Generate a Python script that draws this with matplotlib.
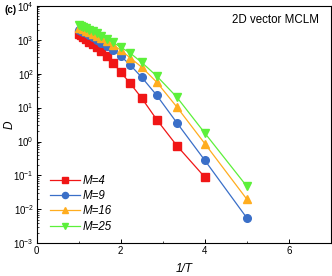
import matplotlib
matplotlib.use("Agg")
import matplotlib.pyplot as plt
from matplotlib.ticker import LogLocator, NullFormatter, MultipleLocator

plt.rcParams['font.family'] = ['Liberation Sans', 'DejaVu Sans']
plt.rcParams['mathtext.fontset'] = 'custom'
plt.rcParams['mathtext.rm'] = 'Liberation Sans'

# temperatures used in the simulation, plotted as 1/T
temps = [1.0, 0.95, 0.9, 0.85, 0.8, 0.75, 0.7, 0.65, 0.6, 0.55,
         0.5, 0.45, 0.4, 0.35, 0.3, 0.25, 0.2]
inv_t = [1.0 / t for t in temps]

d_m4 = [1514, 1349, 1175, 1023, 851, 759, 603, 457, 331, 209,
        110, 52.5, 19, 4.4, 0.76, 0.089]
d_m9 = [1995, 1862, 1698, 1549, 1349, 1175, 977, 813, 661, 513,
        331, 182, 78, 23, 3.6, 0.28, 0.0056]
d_m16 = [2291, 2188, 2042, 1862, 1698, 1514, 1318, 1096, 891, 708,
         490, 295, 155, 56, 10.5, 0.87, 0.020]
d_m25 = [2630, 2512, 2344, 2188, 1995, 1778, 1549, 1318, 1072, 832,
         603, 407, 214, 85, 20.4, 1.78, 0.048]

labels = ["M=4", "M=9", "M=16", "M=25"]
colors = ["#f01616", "#3a6fc8", "#ffad1f", "#5cf03a"]
markers = ["s", "o", "^", "v"]

fig = plt.figure(figsize=(3.32, 2.76), dpi=100)
ax = fig.add_axes([0.1105, 0.1185, 0.886, 0.8605])

for d, lab, c, m in zip([d_m4, d_m9, d_m16, d_m25], labels, colors, markers):
    ax.plot(inv_t[:len(d)], d, color=c, marker=m, markersize=5.5,
            linewidth=0.9, label=lab)

ax.set_yscale('log')
ax.set_xlim(0, 7)
ax.set_ylim(1e-3, 1e4)
ax.xaxis.set_major_locator(MultipleLocator(2))
ax.xaxis.set_minor_locator(MultipleLocator(1))
ax.yaxis.set_major_locator(LogLocator(base=10, numticks=10))
ax.yaxis.set_minor_locator(LogLocator(base=10, subs=range(2, 10), numticks=20))
ax.yaxis.set_minor_formatter(NullFormatter())
ax.tick_params(which='both', direction='in', labelsize=7, pad=2)
ax.tick_params(which='major', length=3, width=0.7)
ax.tick_params(which='minor', length=1.5, width=0.5)
for s in ax.spines.values():
    s.set_linewidth(0.8)

ax.set_xlabel("1/T", fontsize=8.5, style='italic')
ax.xaxis.set_label_coords(0.5, -0.082)
ax.set_ylabel("D", fontsize=8.5, style='italic')
ax.yaxis.set_label_coords(-0.072, 0.5)

ax.text(0.96, 0.94, "2D vector MCLM", transform=ax.transAxes,
        ha='right', va='center', fontsize=8.3)
fig.text(0.015, 0.962, "(c)", fontsize=7, fontweight='bold', va='center')

ax.legend(loc='lower left', bbox_to_anchor=(0.01, 0.0), frameon=False,
          handlelength=2.6, handletextpad=0.2, labelspacing=0.3,
          markerscale=0.8, prop={'style': 'italic', 'size': 8.3})

fig.savefig("out.png", dpi=100)
